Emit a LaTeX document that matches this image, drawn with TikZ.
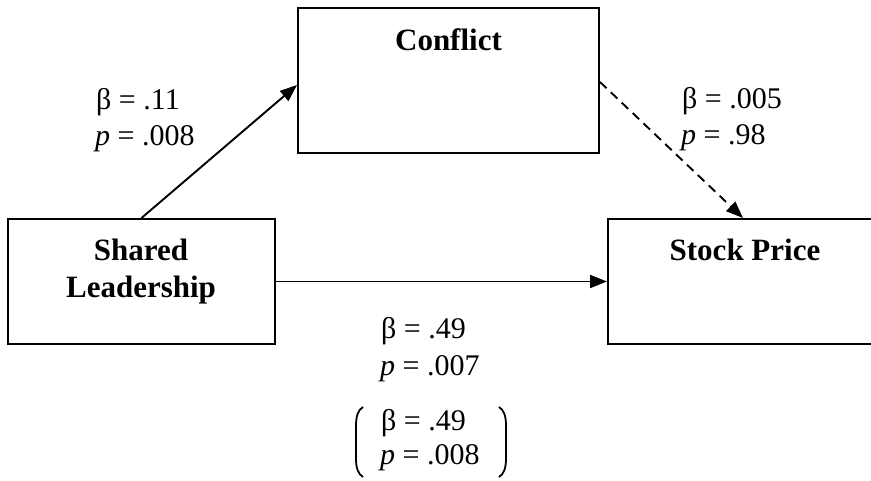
\documentclass[tikz,border=0pt]{standalone}
\usepackage{fontspec}
\setmainfont{Liberation Serif}
\usetikzlibrary{arrows.meta}
\begin{document}
\begin{tikzpicture}[x=1pt,y=-1pt,
  box/.style={draw,line width=2pt,rectangle,inner sep=0pt},
  title/.style={font=\fontsize{31}{37}\selectfont\bfseries,inner sep=0pt,anchor=base},
  lab/.style={font=\fontsize{30}{36}\selectfont,inner sep=0pt,anchor=base west},
  arr/.style={line width=1.9pt,-{Triangle[length=17pt,width=13pt]}},
  paren/.style={line width=1.8pt}]
\useasboundingbox (0,0) rectangle (871,480);
\clip (0,0) rectangle (871,480);
\fill[white] (0,0) rectangle (871,480);
% boxes
\node[box,minimum width=301pt,minimum height=145pt] (cf) at (448.5,80.5) {};
\node[box,minimum width=267pt,minimum height=125pt] (sl) at (141.5,281.5) {};
\node[box,minimum width=277pt,minimum height=125pt] (sp) at (746.5,281.5) {};
% titles
\node[title] (cft) at (448.5,50) {Conflict};
\node[title] (slt1) at (141,260) {Shared};
\node[title] (slt2) at (141,297) {Leadership};
\node[title] (spt) at (745,260) {Stock Price};
% connectors
\draw[arr] (sl.north) -- ([yshift=-4.5pt]cf.west);
\draw[arr,dash pattern=on 9pt off 6pt] ([yshift=-1.5pt]cf.east) -- ([xshift=-3.5pt]sp.north);
\draw[arr] (sl.east) -- (sp.west);
% labels
\node[lab] (a1) at (96,109) {β = .11};
\node[lab] (a2) at (95,145) {\itshape p\upshape{} = .008};
\node[lab] (b1) at (682,108) {β = .005};
\node[lab] (b2) at (681,144) {\itshape p\upshape{} = .98};
\node[lab] (c1) at (381,338) {β = .49};
\node[lab] (c2) at (380,375) {\itshape p\upshape{} = .007};
\node[lab] (d1) at (381,430) {β = .49};
\node[lab] (d2) at (380,464) {\itshape p\upshape{} = .008};
% parentheses
\draw[paren] (363,407) .. controls (358,410) and (356,416) .. (356,426) -- (356,458) .. controls (356,468) and (358,474) .. (363,477);
\draw[paren] (499,407) .. controls (504,410) and (506,416) .. (506,426) -- (506,458) .. controls (506,468) and (504,474) .. (499,477);
\end{tikzpicture}
\end{document}
